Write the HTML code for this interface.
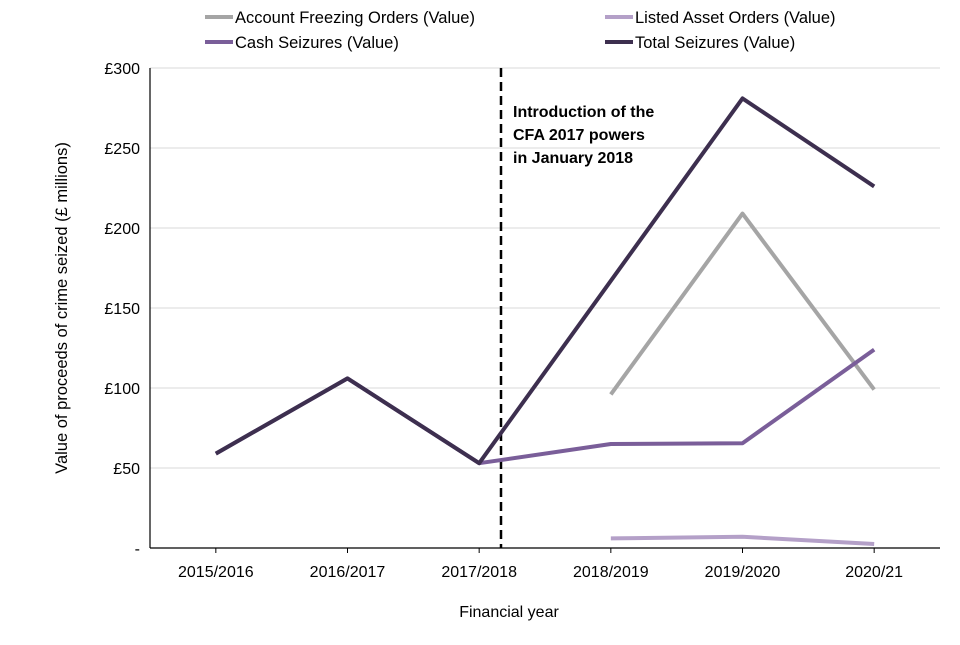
<!DOCTYPE html>
<html><head><meta charset="utf-8"><style>
body{margin:0;background:#fff;}
svg{font-family:"Liberation Sans",Arial,sans-serif;}
</style></head><body>
<svg id="chart" width="960" height="640" viewBox="0 0 960 640"></svg>
<script>
const categories=["2015/2016","2016/2017","2017/2018","2018/2019","2019/2020","2020/21"];
const totalValues=[59,106,53,167,281,226];
const afoValues=[null,null,null,96,209,99];
const cashValues=[59,106,53,65,65.5,124];
const laoValues=[null,null,null,6,7,2.5];
const yTicks=[0,50,100,150,200,250,300];
const yTickLabels=["-","£50","£100","£150","£200","£250","£300"];
const NS="http://www.w3.org/2000/svg";
const svg=document.getElementById('chart');
const L=150,R=940,T=68,B=548;
const x=i=>L+(R-L)/categories.length*(i+0.5);
const y=v=>B-(v/300)*(B-T);
function mk(tag,attrs,parent){const e=document.createElementNS(NS,tag);for(const k in attrs)e.setAttribute(k,attrs[k]);(parent||svg).appendChild(e);return e;}
yTicks.forEach((t,i)=>{
 if(t>0){const g=mk('line',{x1:L,x2:R,y1:y(t),y2:y(t),stroke:'#d9d9d9','stroke-width':1});
 
 }
 const tx=mk('text',{x:140,y:y(t)+6,'text-anchor':'end','font-size':16,fill:'#000'});
 tx.textContent=yTickLabels[i];
 
 
});
const ya=mk('line',{x1:L,x2:L,y1:T,y2:B,stroke:'#000','stroke-width':1.2});


const xa=mk('line',{x1:L,x2:R,y1:B,y2:B,stroke:'#000','stroke-width':1.2});


categories.forEach((c,i)=>{
 const tk=mk('line',{x1:x(i),x2:x(i),y1:B,y2:B+5,stroke:'#000'});
 
 
 const t=mk('text',{x:x(i),y:577,'text-anchor':'middle','font-size':16,fill:'#000'});
 t.textContent=c;
 
 
});
const d=mk('line',{x1:501,x2:501,y1:T,y2:B,stroke:'#000','stroke-width':2.5,'stroke-dasharray':'9,5'});


const ann=mk('text',{x:513,y:117,'font-size':16,'font-weight':'bold',fill:'#000'});


["Introduction of the","CFA 2017 powers","in January 2018"].forEach((s,i)=>{const ts=mk('tspan',{x:513,dy:i?23:0},ann);ts.textContent=s;});
function series(vals,color,name){
 let dstr="";vals.forEach((v,i)=>{if(v==null)return;dstr+=(dstr?"L":"M")+x(i)+","+y(v);});
 const p=mk('path',{d:dstr,fill:'none',stroke:color,'stroke-width':4,'stroke-linejoin':'round'});
 
 
}
series(afoValues,'#a5a5a5','account-freezing-orders-line');
series(laoValues,'#b4a0c8','listed-asset-orders-line');
series(cashValues,'#7a5e99','cash-seizures-line');
series(totalValues,'#3d2f4f','total-seizures-line');
const leg=[["Account Freezing Orders (Value)",'#a5a5a5',205,17],["Listed Asset Orders (Value)",'#b4a0c8',605,17],["Cash Seizures (Value)",'#7a5e99',205,42],["Total Seizures (Value)",'#3d2f4f',605,42]];
leg.forEach(l=>{
 const g=mk('g',{});
 
 
 mk('line',{x1:l[2],x2:l[2]+28,y1:l[3],y2:l[3],stroke:l[1],'stroke-width':4},g);
 const t=mk('text',{x:l[2]+30,y:l[3]+6,'font-size':16.5,fill:'#000'},g);t.textContent=l[0];
});
const yt=mk('text',{x:0,y:0,'font-size':16.5,'text-anchor':'middle',transform:'translate(67,308) rotate(-90)',fill:'#000'});
yt.textContent="Value of proceeds of crime seized (£ millions)";


const xt=mk('text',{x:509,y:617,'font-size':16,'text-anchor':'middle',fill:'#000'});
xt.textContent="Financial year";


</script>
</body></html>
